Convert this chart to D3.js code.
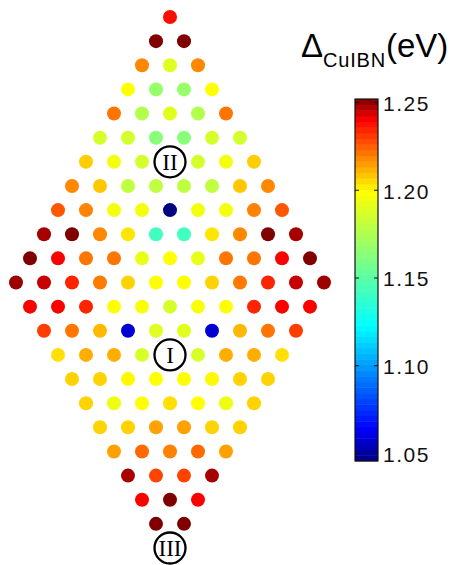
<!DOCTYPE html>
<html>
<head>
<meta charset="utf-8">
<script src="https://cdn.jsdelivr.net/npm/d3@7"></script>
<style>
  html, body { margin: 0; padding: 0; background: #fff; }
  svg { display: block; }
</style>
</head>
<body>
<svg id="chart" width="454" height="565"></svg>
<script>
// ---- data (ΔCuIBN in eV), one array per lattice row, top to bottom; null = labelled site ----
const row00 = [1.238];
const row01 = [1.252, 1.252];
const row02 = [1.218, 1.190, 1.218];
const row03 = [1.199, 1.168, 1.168, 1.199];
const row04 = [1.221, 1.176, 1.190, 1.176, 1.221];
const row05 = [1.186, 1.186, 1.163, 1.163, 1.186, 1.186];
const row06 = [1.207, 1.195, 1.186, null, 1.186, 1.195, 1.207];
const row07 = [1.218, 1.208, 1.180, 1.180, 1.180, 1.180, 1.208, 1.218];
const row08 = [1.226, 1.219, 1.195, 1.195, 1.046, 1.195, 1.195, 1.219, 1.226];
const row09 = [1.248, 1.252, 1.218, 1.203, 1.142, 1.142, 1.203, 1.218, 1.252, 1.248];
const row10 = [1.252, 1.240, 1.221, 1.221, 1.192, 1.199, 1.192, 1.221, 1.221, 1.240, 1.252];
const row11 = [1.249, 1.245, 1.234, 1.220, 1.206, 1.199, 1.199, 1.206, 1.220, 1.234, 1.245, 1.249];
const row12 = [1.240, 1.240, 1.234, 1.199, 1.197, 1.186, 1.197, 1.199, 1.234, 1.240, 1.240];
const row13 = [1.230, 1.221, 1.210, 1.058, 1.190, 1.190, 1.058, 1.210, 1.221, 1.230];
const row14 = [1.204, 1.212, 1.212, 1.187, null, 1.187, 1.212, 1.212, 1.204];
const row15 = [1.206, 1.206, 1.200, 1.199, 1.199, 1.200, 1.206, 1.206];
const row16 = [1.206, 1.194, 1.199, 1.204, 1.199, 1.194, 1.206];
const row17 = [1.206, 1.206, 1.214, 1.214, 1.206, 1.206];
const row18 = [1.214, 1.223, 1.219, 1.223, 1.214];
const row19 = [1.248, 1.229, 1.229, 1.248];
const row20 = [1.240, 1.252, 1.240];
const row21 = [1.252, 1.252];
const row22 = [null];
const rows = [row00,row01,row02,row03,row04,row05,row06,row07,row08,row09,row10,
              row11,row12,row13,row14,row15,row16,row17,row18,row19,row20,row21,row22];

// labelled sites (row index, label)
const siteRows   = [14, 6, 22];
const siteLabels = ["I", "II", "III"];

// colour bar
const cTicks = [1.05, 1.10, 1.15, 1.20, 1.25];
const cMin = 1.0455, cMax = 1.2517;
const cmapStops  = [1.0455, 1.064, 1.1226, 1.161, 1.199, 1.2397, 1.2517];
const cmapColors = ["#000080", "#0000ff", "#00ffff", "#80ff80", "#ffff00", "#ff0000", "#800000"];

// ---- build ----
const svg = d3.select("#chart");
const color = d3.scaleLinear().domain(cmapStops).range(cmapColors).interpolate(d3.interpolateRgb).clamp(true);

// lattice scales: u = half-step column coordinate, row index
const xScale = d3.scaleLinear().domain([-11, 11]).range([16, 324]);
const yScale = d3.scaleLinear().domain([0, 22]).range([17, 548]);

const points = [];
rows.forEach((vals, r) => {
  const n = vals.length;
  vals.forEach((v, k) => {
    points.push({ r, u: 2 * k - (n - 1), v });
  });
});

svg.append("g").selectAll("circle")
  .data(points.filter(d => d.v !== null))
  .join("circle")
  .attr("cx", d => xScale(d.u))
  .attr("cy", d => yScale(d.r))
  .attr("r", 7)
  .attr("fill", d => color(d.v));

const sites = points.filter(d => d.v === null).map(d => ({ ...d, label: siteLabels[siteRows.indexOf(d.r)] }));
const sg = svg.append("g").selectAll("g").data(sites).join("g")
  .attr("transform", d => `translate(${xScale(d.u)},${yScale(d.r)})`);
sg.append("circle").attr("r", 15.5).attr("fill", "#fff").attr("stroke", "#000").attr("stroke-width", 2.3);
sg.append("text")
  .attr("text-anchor", "middle")
  .attr("y", 8)
  .attr("font-family", "'Liberation Serif', 'DejaVu Serif', serif")
  .attr("font-size", 23)
  .attr("fill", "#000")
  .text(d => d.label);

// colour bar
const cbX = 355, cbW = 23;
const cbY = d3.scaleLinear().domain([1.05, 1.25]).range([453, 102]);
const nBands = 64;
const bands = d3.range(nBands).map(i => {
  const v0 = cMin + (cMax - cMin) * i / nBands;
  const v1 = cMin + (cMax - cMin) * (i + 1) / nBands;
  return { v0, v1, c: color((v0 + v1) / 2) };
});
const cb = svg.append("g");
cb.selectAll("rect.band").data(bands).join("rect")
  .attr("class", "band")
  .attr("x", cbX)
  .attr("width", cbW)
  .attr("y", d => cbY(d.v1))
  .attr("height", d => cbY(d.v0) - cbY(d.v1) + 0.5)
  .attr("fill", d => d.c);
cb.append("rect")
  .attr("x", cbX).attr("y", cbY(cMax))
  .attr("width", cbW).attr("height", cbY(cMin) - cbY(cMax))
  .attr("fill", "none").attr("stroke", "#111").attr("stroke-width", 1.2);

const axR = d3.axisRight(cbY).tickValues(cTicks).tickSize(-4).tickPadding(5).tickFormat(d3.format(".2f"));
const gR = svg.append("g").attr("transform", `translate(${cbX + cbW},0)`).call(axR);
gR.select(".domain").remove();
gR.selectAll("line").attr("stroke", "#111");
gR.selectAll("text")
  .attr("font-family", "'Liberation Sans', Arial, sans-serif")
  .attr("font-size", 21)
  .attr("letter-spacing", "1.5px")
  .attr("fill", "#111")
  .attr("dy", "0.4em");

const axL = d3.axisLeft(cbY).tickValues(cTicks).tickSize(-4).tickFormat("");
const gL = svg.append("g").attr("transform", `translate(${cbX},0)`).call(axL);
gL.select(".domain").remove();
gL.selectAll("line").attr("stroke", "#111");

// title
const title = svg.append("text")
  .attr("x", 301).attr("y", 57)
  .attr("font-family", "'Liberation Sans', Arial, sans-serif")
  .attr("fill", "#000");
title.append("tspan").attr("font-size", 33).text("Δ");
title.append("tspan").attr("font-size", 20).attr("dy", 10).attr("letter-spacing", "0.8px").text("CuIBN");
title.append("tspan").attr("font-size", 33).attr("dy", -10).attr("letter-spacing", "0px").text("(eV)");
</script>
</body>
</html>
